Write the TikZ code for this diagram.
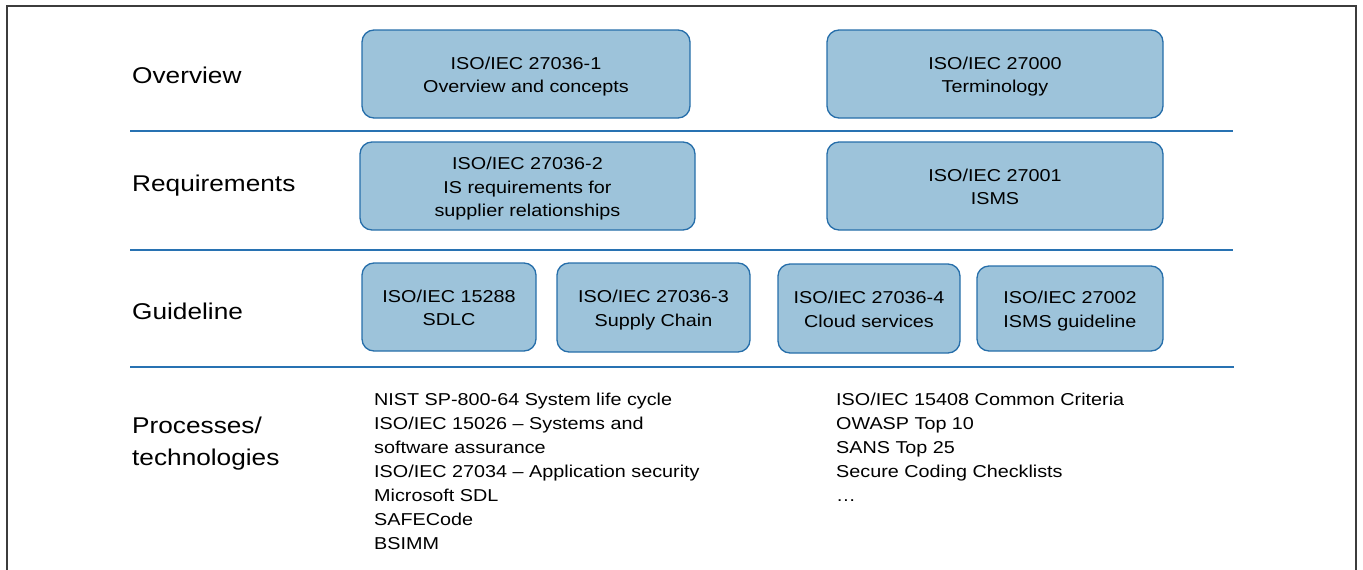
\documentclass[tikz,border=0pt]{standalone}
\usepackage{fontspec}
\setmainfont{Liberation Sans}[FakeStretch=1.15]
\definecolor{boxfill}{RGB}{157,195,218}
\definecolor{boxline}{RGB}{38,110,170}
\definecolor{sepline}{RGB}{40,114,178}
\definecolor{framec}{RGB}{60,60,60}
\tikzset{
  stdbox/.style={draw=boxline, fill=boxfill, line width=1.3pt, rounded corners=12pt,
    align=center, font=\fontsize{17.2}{23.5}\selectfont, inner sep=0pt},
  rowlabel/.style={anchor=west, inner sep=0pt, font=\fontsize{22.8}{32}\selectfont, align=left},
  listtext/.style={anchor=north west, inner sep=0pt, align=left, font=\fontsize{17.2}{24}\selectfont},
  sep/.style={draw=sepline, line width=1.6pt},
  frame/.style={draw=framec, line width=2pt}
}
\newcommand{\bxt}[1]{\raisebox{-2.5pt}[\height][\depth]{\begin{tabular}{@{}c@{}}#1\end{tabular}}}
\begin{document}
\begin{tikzpicture}[x=1pt,y=-1pt]
\useasboundingbox (0,0) rectangle (1363,570);
% frame
\coordinate (fbl) at (7,571);
\coordinate (ftl) at (7,6);
\coordinate (ftr) at (1356,6);
\coordinate (fbr) at (1356,571);
\draw[frame] (fbl) -- (ftl) -- (ftr) -- (fbr);
% separators
\coordinate (s1a) at (130,131); \coordinate (s1b) at (1233,131);
\coordinate (s2a) at (130,250); \coordinate (s2b) at (1233,250);
\coordinate (s3a) at (130,367); \coordinate (s3b) at (1234,367);
\draw[sep] (s1a) -- (s1b);
\draw[sep] (s2a) -- (s2b);
\draw[sep] (s3a) -- (s3b);
% row labels
\node[rowlabel] (lov) at (132,75) {Overview};
\node[rowlabel] (lreq) at (132,186) {Requirements};
\node[rowlabel] (lgui) at (132,311) {Guideline};
\node[rowlabel] (lproc) at (132,444) {Processes/\\technologies};
% boxes
\node[stdbox, minimum width=328pt, minimum height=88pt] (b1) at (526,74) {\bxt{ISO/IEC 27036-1\\Overview and concepts}};
\node[stdbox, minimum width=336pt, minimum height=88pt] (b2) at (995,74) {\bxt{ISO/IEC 27000\\Terminology}};
\node[stdbox, minimum width=335pt, minimum height=88pt] (b3) at (527.5,186) {\bxt{ISO/IEC 27036-2\\IS requirements for\\supplier relationships}};
\node[stdbox, minimum width=336pt, minimum height=88pt] (b4) at (995,186) {\bxt{ISO/IEC 27001\\ISMS}};
\node[stdbox, minimum width=174pt, minimum height=88pt] (g1) at (449,307) {\bxt{ISO/IEC 15288\\SDLC}};
\node[stdbox, minimum width=193pt, minimum height=89pt] (g2) at (653.5,307.5) {\bxt{ISO/IEC 27036-3\\Supply Chain}};
\node[stdbox, minimum width=182pt, minimum height=89pt] (g3) at (869,308.5) {\bxt{ISO/IEC 27036-4\\Cloud services}};
\node[stdbox, minimum width=186pt, minimum height=85pt] (g4) at (1070,308.5) {\bxt{ISO/IEC 27002\\ISMS guideline}};
% lists
\node[listtext] (list1) at (374,392.5) {NIST SP-800-64 System life cycle\\ISO/IEC 15026 -- Systems and\\software assurance\\ISO/IEC 27034 -- Application security\\Microsoft SDL\\SAFECode\\BSIMM};
\node[listtext] (list2) at (836,392.5) {ISO/IEC 15408 Common Criteria\\OWASP Top 10\\SANS Top 25\\Secure Coding Checklists\\…};
\end{tikzpicture}
\end{document}
